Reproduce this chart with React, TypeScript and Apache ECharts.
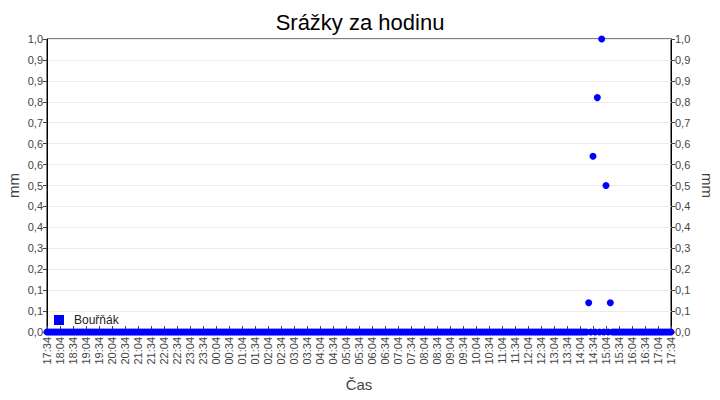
import * as echarts from 'echarts';
import { useEffect, useRef } from 'react';

// 5-minute readings, 17:34 to 17:34 the next day
const startMinutes = 17 * 60 + 34;
const timeLabels: string[] = [];
for (let i = 0; i <= 288; i++) {
    const m = (startMinutes + i * 5) % 1440;
    const hh = String(Math.floor(m / 60)).padStart(2, '0');
    const mm = String(m % 60).padStart(2, '0');
    timeLabels.push(`${hh}:${mm}`);
}

// one row per hour (12 readings), first row starts at 17:34
const rainValues = [
    0, 0, 0, 0, 0, 0, 0, 0, 0, 0, 0, 0, // 17:34
    0, 0, 0, 0, 0, 0, 0, 0, 0, 0, 0, 0, // 18:34
    0, 0, 0, 0, 0, 0, 0, 0, 0, 0, 0, 0, // 19:34
    0, 0, 0, 0, 0, 0, 0, 0, 0, 0, 0, 0, // 20:34
    0, 0, 0, 0, 0, 0, 0, 0, 0, 0, 0, 0, // 21:34
    0, 0, 0, 0, 0, 0, 0, 0, 0, 0, 0, 0, // 22:34
    0, 0, 0, 0, 0, 0, 0, 0, 0, 0, 0, 0, // 23:34
    0, 0, 0, 0, 0, 0, 0, 0, 0, 0, 0, 0, // 00:34
    0, 0, 0, 0, 0, 0, 0, 0, 0, 0, 0, 0, // 01:34
    0, 0, 0, 0, 0, 0, 0, 0, 0, 0, 0, 0, // 02:34
    0, 0, 0, 0, 0, 0, 0, 0, 0, 0, 0, 0, // 03:34
    0, 0, 0, 0, 0, 0, 0, 0, 0, 0, 0, 0, // 04:34
    0, 0, 0, 0, 0, 0, 0, 0, 0, 0, 0, 0, // 05:34
    0, 0, 0, 0, 0, 0, 0, 0, 0, 0, 0, 0, // 06:34
    0, 0, 0, 0, 0, 0, 0, 0, 0, 0, 0, 0, // 07:34
    0, 0, 0, 0, 0, 0, 0, 0, 0, 0, 0, 0, // 08:34
    0, 0, 0, 0, 0, 0, 0, 0, 0, 0, 0, 0, // 09:34
    0, 0, 0, 0, 0, 0, 0, 0, 0, 0, 0, 0, // 10:34
    0, 0, 0, 0, 0, 0, 0, 0, 0, 0, 0, 0, // 11:34
    0, 0, 0, 0, 0, 0, 0, 0, 0, 0, 0, 0, // 12:34
    0, 0, 0, 0, 0, 0, 0, 0, 0, 0, 0.1, 0, // 13:34
    0.6, 0, 0.8, 0, 1.0, 0, 0.5, 0, 0.1, 0, 0, 0, // 14:34
    0, 0, 0, 0, 0, 0, 0, 0, 0, 0, 0, 0, // 15:34
    0, 0, 0, 0, 0, 0, 0, 0, 0, 0, 0, 0, // 16:34
    0, // 17:34
];

const yTickLabels = [
    '0,0', '0,1', '0,1', '0,2', '0,3', '0,4', '0,4', '0,5',
    '0,6', '0,6', '0,7', '0,8', '0,9', '0,9', '1,0',
];

const FONT = '"Liberation Sans", Arial, sans-serif';
const BLUE = '#0000ff';

const makeYAxis = (position: 'left' | 'right') => ({
    type: 'value' as const,
    position,
    min: 0,
    max: 1,
    interval: 1 / 14,
    name: 'mm',
    nameLocation: 'middle' as const,
    nameGap: position === 'left' ? 26 : 29,
    nameMoveOverlap: false,
    nameRotate: position === 'left' ? 90 : -90,
    nameTextStyle: { color: '#444', fontSize: 15, fontFamily: FONT },
    axisLine: { show: true, lineStyle: { color: '#000' } },
    axisTick: { show: true, length: 4, lineStyle: { color: '#444' } },
    axisLabel: {
        color: '#444',
        fontSize: 11,
        fontFamily: FONT,
        margin: 4,
        formatter: (v: number) => yTickLabels[Math.round(v * 14)] ?? '',
    },
    splitLine: { show: position === 'left', lineStyle: { color: '#ebebeb' } },
});

const RainChart = () => {
    const chartRef = useRef<HTMLDivElement>(null);

    useEffect(() => {
        document.body.style.margin = '0';
        if (!chartRef.current) return;
        const chart = echarts.init(chartRef.current, undefined, { renderer: 'svg' });

        chart.setOption({
            animation: false,
            backgroundColor: '#fff',
            title: {
                text: 'Srážky za hodinu',
                left: 'center',
                top: 6,
                textStyle: { color: '#000', fontSize: 22, fontWeight: 'normal', fontFamily: FONT },
            },
            legend: {
                left: 54,
                top: 314,
                padding: 0,
                itemWidth: 10,
                itemHeight: 10,
                icon: 'rect',
                textStyle: { color: '#222', fontSize: 12, fontFamily: FONT, padding: [0, 0, 0, 5] },
                data: [{ name: 'Bouřňák', itemStyle: { color: BLUE, opacity: 1 } }],
            },
            grid: {
                left: 47,
                right: 49,
                top: 39,
                bottom: 68,
                outerBoundsMode: 'none',
                show: true,
                borderColor: '#000',
                borderWidth: 1,
            },
            xAxis: {
                type: 'category',
                data: timeLabels,
                boundaryGap: false,
                name: 'Čas',
                nameLocation: 'middle',
                nameGap: 45,
                nameMoveOverlap: false,
                nameTextStyle: { color: '#444', fontSize: 15, fontFamily: FONT },
                axisLine: { show: true, lineStyle: { color: '#000' } },
                axisTick: { show: true, inside: true, interval: 5, length: 6, lineStyle: { color: '#444' } },
                axisLabel: {
                    interval: 5,
                    rotate: 90,
                    color: '#444',
                    fontSize: 11,
                    fontFamily: FONT,
                    margin: 5,
                },
                splitLine: { show: false },
            },
            yAxis: [makeYAxis('left'), makeYAxis('right')],
            series: [
                {
                    name: 'Bouřňák',
                    type: 'scatter',
                    data: rainValues,
                    symbol: 'circle',
                    symbolSize: 7,
                    clip: false,
                    itemStyle: { color: BLUE, opacity: 1 },
                },
            ],
        });

        const onResize = () => chart.resize();
        window.addEventListener('resize', onResize);
        return () => {
            window.removeEventListener('resize', onResize);
            chart.dispose();
        };
    }, []);

    return <div ref={chartRef} style={{ width: 720, height: 400 }} />;
};

export default function App() {
    return <RainChart />;
}
